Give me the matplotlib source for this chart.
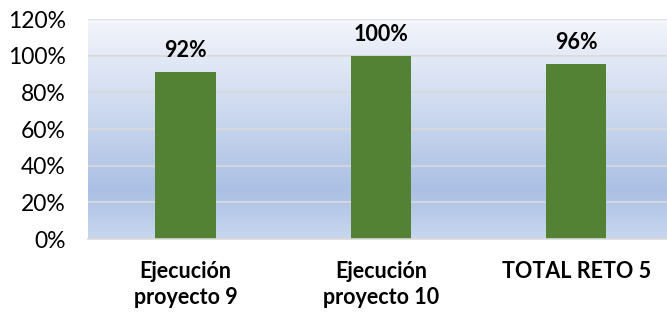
import matplotlib.pyplot as plt
import numpy as np
from matplotlib.colors import LinearSegmentedColormap

categories = ["Ejecución\nproyecto 9", "Ejecución\nproyecto 10", "TOTAL RETO 5"]
values = [0.91, 1.00, 0.955]
value_labels = ["92%", "100%", "96%"]
y_ticks = [0, 0.2, 0.4, 0.6, 0.8, 1.0, 1.2]

plt.rcParams['font.family'] = ['Lato', 'DejaVu Sans']

fig = plt.figure(figsize=(6.67, 3.15), dpi=100)
ax = fig.add_axes([88 / 667, 1 - 239 / 315, 1 - 88 / 667, 220 / 315])

# background gradient, light at top, darker near bottom
bg = LinearSegmentedColormap.from_list(
    "bg", [(0.0, "#c9d7ef"), (0.22, "#abc0e4"), (1.0, "#f3f5fb")])
grad = np.linspace(0, 1, 256).reshape(-1, 1)
ax.imshow(grad, cmap=bg, origin='lower', aspect='auto',
          extent=(0, 1, 0, 1), transform=ax.transAxes, zorder=0)

x = np.arange(len(categories))
ax.bar(x, values, width=0.31, color="#548235", zorder=3)

for xi, v, lab in zip(x, values, value_labels):
    ax.annotate(lab, (xi, v), xytext=(0, 8), textcoords='offset points',
                ha='center', va='bottom', fontsize=15.5, fontweight='bold',
                color="#000000", zorder=4)

ax.set_xlim(-0.5, 2.465)
ax.set_ylim(0, 1.2)
ax.set_yticks(y_ticks)
ax.set_yticklabels([f"{int(round(t * 100))}%" for t in y_ticks], fontsize=16.5,
                   color="#000000")
ax.set_xticks(x)
ax.set_xticklabels(categories, fontsize=15.5, fontweight='bold', linespacing=1.3)
ax.tick_params(axis='both', length=0)
ax.tick_params(axis='y', pad=16)
ax.tick_params(axis='x', pad=16)

ax.grid(axis='y', color="#d9d9d9", linewidth=1.2, zorder=1)
for s in ['top', 'right', 'left']:
    ax.spines[s].set_visible(False)
ax.spines['bottom'].set_color("#d9d9d9")
ax.spines['bottom'].set_linewidth(1.2)
ax.spines['bottom'].set_zorder(3)

fig.savefig("out.png", dpi=100)
